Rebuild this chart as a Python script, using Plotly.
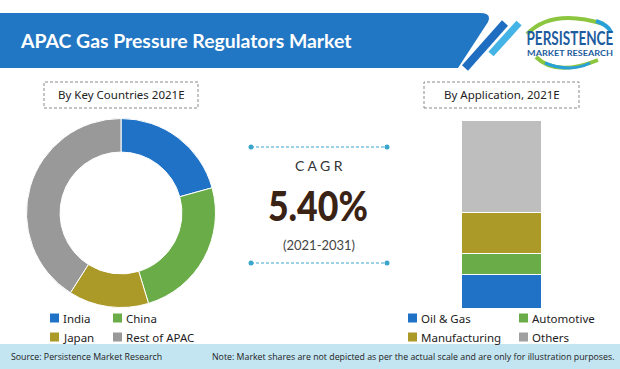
import plotly.graph_objects as go

W, H = 620, 369

# ---------------- data ----------------
countries = ["India", "China", "Japan", "Rest of APAC"]
country_share = [20.7, 24.6, 13.7, 41.0]
country_colors = ["#1F72C6", "#6AAC47", "#AB9A27", "#999999"]

applications = ["Oil & Gas", "Automotive", "Manufacturing", "Others"]
app_share = [18, 11, 22, 49]
app_colors = ["#1F72C6", "#6AAC47", "#AB9A27", "#BEBEBE"]
app_legend_colors = ["#1F72C6", "#6AAC47", "#AB9A27", "#A0A0A0"]

title = "APAC Gas Pressure Regulators Market"
cagr_value = "5.40%"
cagr_period = "(2021-2031)"


def X(px):
    return px / W


def Y(py):
    return 1 - py / H


def path(cmds):
    out = []
    for c in cmds:
        if isinstance(c, str):
            out.append(c)
        else:
            out.append(f"{X(c[0]):.5f},{Y(c[1]):.5f}")
    return " ".join(out)


fig = go.Figure()

# donut
cx, cy, r = 121, 213, 94.5
fig.add_trace(go.Pie(
    labels=countries, values=country_share, sort=False, direction="clockwise",
    rotation=0, hole=0.645, textinfo="none", hoverinfo="label+percent",
    marker=dict(colors=country_colors, line=dict(color="white", width=1)),
    domain=dict(x=[X(cx - r), X(cx + r)], y=[Y(cy + r), Y(cy - r)]),
    showlegend=False,
))

# stacked bar
for name, val, col in zip(applications, app_share, app_colors):
    fig.add_trace(go.Bar(
        x=[0], y=[val], name=name, marker=dict(color=col, line=dict(color="white", width=1)),
        width=1, xaxis="x", yaxis="y", showlegend=False,
    ))

shapes = []
ann = []


def text(t, x, y, anchor="center", family="Noto Sans", size=11.5, color="#222222", weight="normal"):
    ann.append(dict(text=t, x=X(x), y=Y(y), xref="paper", yref="paper", xanchor=anchor, yanchor="middle",
                    font=dict(family=family, size=size, color=color, weight=weight), showarrow=False))


# header banner
shapes.append(dict(type="path", xref="paper", yref="paper",
                   path=path(["M", (0, 13), "L", (480, 13), "Q", (492, 13), (488, 22), "L", (458, 68), "L", (0, 68), "Z"]),
                   fillcolor="#2277C4", line=dict(width=0), layer="below"))
shapes.append(dict(type="line", xref="paper", yref="paper", x0=X(505), y0=Y(23), x1=X(465), y1=Y(68),
                   line=dict(color="#1E6DC0", width=8)))
shapes.append(dict(type="line", xref="paper", yref="paper", x0=X(519), y0=Y(23), x1=X(491), y1=Y(54),
                   line=dict(color="#44B3E6", width=7)))
text(title, 18, 40, "left", "Lato", 19.4, "white", "bold")

# logo
shapes.append(dict(type="path", xref="paper", yref="paper",
                   path=path(["M", (527, 34), "Q", (552, 8), (604, 24)]),
                   line=dict(color="#8CC63F", width=4)))
shapes.append(dict(type="path", xref="paper", yref="paper",
                   path=path(["M", (596, 21), "Q", (608, 25), (611, 32)]),
                   line=dict(color="#2AA0D8", width=4)))
shapes.append(dict(type="path", xref="paper", yref="paper",
                   path=path(["M", (536, 57), "Q", (556, 77), (598, 60)]),
                   line=dict(color="#8CC63F", width=4)))
shapes.append(dict(type="path", xref="paper", yref="paper",
                   path=path(["M", (545, 63), "Q", (570, 73), (590, 63)]),
                   line=dict(color="#2AA0D8", width=3)))
text("PERSISTENCE", 570, 37.5, "center", "Lato", 19, "#1D5C9E", "bold")
text("MARKET RESEARCH", 570, 52.5, "center", "Lato", 7, "#1D5C9E", "bold")

# section title boxes
for (x0, x1, txt) in [(44, 198, "By Key Countries 2021E"), (424, 579, "By Application, 2021E")]:
    shapes.append(dict(type="rect", xref="paper", yref="paper", x0=X(x0), x1=X(x1), y0=Y(108), y1=Y(82),
                       line=dict(color="#8A8A8A", width=1, dash="3px,2px"), fillcolor="white"))
    text(txt, (x0 + x1) / 2, 95)

# CAGR block
for yy in (147, 263):
    shapes.append(dict(type="line", xref="paper", yref="paper", x0=X(251), x1=X(387), y0=Y(yy), y1=Y(yy),
                       line=dict(color="#3AA6CC", width=1, dash="3px,2px")))
    for xx in (251, 387):
        shapes.append(dict(type="circle", xref="paper", yref="paper", x0=X(xx - 2.5), x1=X(xx + 2.5),
                           y0=Y(yy + 2.5), y1=Y(yy - 2.5), fillcolor="#3AA6CC", line=dict(width=0)))
text("C A G R", 319, 165, "center", "Lato", 14, "#333333")
text(cagr_value, 318, 205, "center", "Lato", 42, "#3A2315", 900)
text(cagr_period, 319, 245, "center", "Lato", 13, "#444444")


# custom legends
def legend(names, colors, x_cols, text_off, rows_y):
    for i, (n, c) in enumerate(zip(names, colors)):
        mx = x_cols[i % 2]
        my = rows_y[i // 2]
        shapes.append(dict(type="rect", xref="paper", yref="paper", x0=X(mx), x1=X(mx + 9),
                           y0=Y(my + 4.5), y1=Y(my - 4.5), fillcolor=c, line=dict(width=0)))
        text(n, mx + text_off, my, "left")


legend(countries, country_colors, (50, 113), 11, (318, 337))
legend(applications, app_legend_colors, (408, 519), 11, (318, 337))

# footer
shapes.append(dict(type="rect", xref="paper", yref="paper", x0=0, x1=1, y0=0, y1=Y(344),
                   fillcolor="#C3E5F2", line=dict(width=0), layer="below"))
text("Source: Persistence Market Research", 9, 357, "left", "Open Sans", 8.8)
text("Note: Market shares are not depicted as per the actual scale and are only for illustration purposes.",
     617, 357, "right", "Open Sans", 8.8)

fig.update_layout(
    width=W, height=H, margin=dict(l=0, r=0, t=0, b=0),
    paper_bgcolor="white", plot_bgcolor="rgba(0,0,0,0)",
    barmode="stack", bargap=0,
    xaxis=dict(domain=[X(462), X(542)], range=[-0.5, 0.5], visible=False, fixedrange=True),
    yaxis=dict(domain=[Y(309), Y(121)], range=[0, 100], visible=False, fixedrange=True),
    shapes=shapes, annotations=ann,
)

# condensed look for a few texts (horizontal squeeze to the reference widths)
post = """
document.body.style.margin='0';
var gd=document.getElementById('{plot_id}');
var targets={'5.40%':100,'PERSISTENCE':87,'MARKET RESEARCH':86};
function fit(){
  gd.querySelectorAll('text.annotation-text').forEach(function(t){
    var k=t.textContent.trim();
    if(targets[k]){
      t.style.transform='';
      var w=t.getBBox().width;
      if(w>0){
        t.style.transformBox='fill-box';
        t.style.transformOrigin='center';
        t.style.transform='scaleX('+(targets[k]/w)+')';
      }
    }
  });
}
fit();
gd.on('plotly_afterplot',fit);
"""

fig.write_html("out.html", config={"displayModeBar": False}, post_script=post)
